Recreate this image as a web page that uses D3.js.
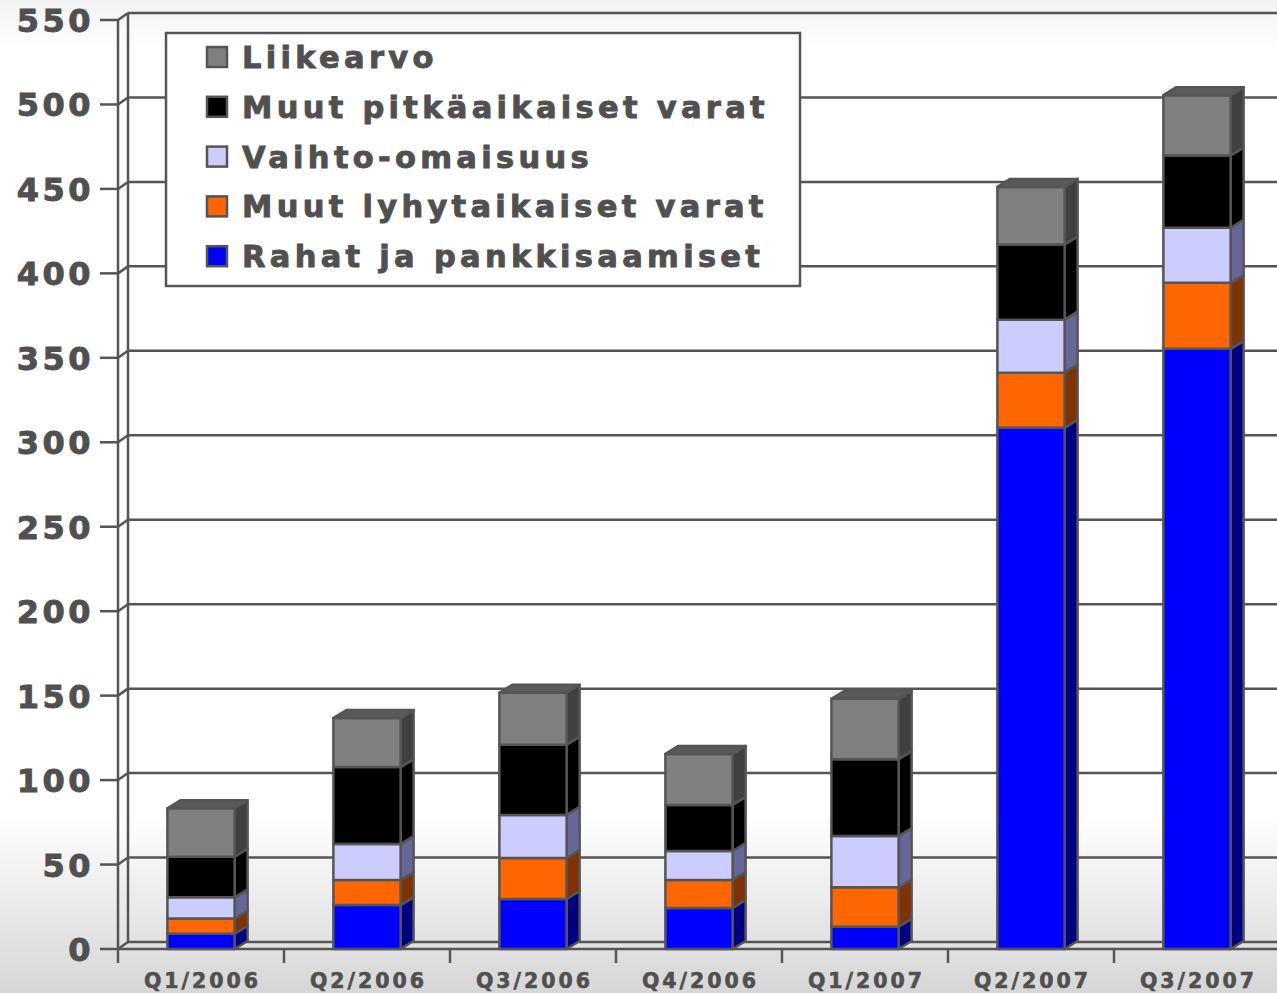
<!DOCTYPE html>
<html>
<head>
<meta charset="utf-8">
<script src="https://cdn.jsdelivr.net/npm/d3@7"></script>
<style>
  body { margin: 0; padding: 0; }
  svg { display: block; font-family: "DejaVu Sans", Verdana, sans-serif; font-weight: bold; }
</style>
</head>
<body>
<svg id="chart" width="1277" height="993"></svg>
<script>
// data (millions)
var quarters = ["Q1/2006", "Q2/2006", "Q3/2006", "Q4/2006", "Q1/2007", "Q2/2007", "Q3/2007"]
var seriesNames = ["Rahat ja pankkisaamiset", "Muut lyhytaikaiset varat", "Vaihto-omaisuus", "Muut pitkäaikaiset varat", "Liikearvo"]
var rahat = [9, 26, 29.6, 24.3, 13.2, 308.6, 355.3]
var muutLyhyt = [9, 14.8, 24.3, 16.6, 23.3, 32.6, 39.1]
var vaihto = [12.6, 21.3, 25.5, 17.1, 30.4, 31.4, 32.6]
var muutPitka = [24, 45.6, 41.5, 27.3, 45.5, 44.5, 42.8]
var liikearvo = [28.7, 29, 30.8, 30.2, 35.7, 34.1, 35.7]
var yTicks = [0, 50, 100, 150, 200, 250, 300, 350, 400, 450, 500, 550]

var fronts = ["#0000ff", "#ff6600", "#ccccff", "#000000", "#808080"]
var sides = ["#000080", "#803300", "#666699", "#000000", "#404040"]
var lineCol = "#555555"
var textCol = "#505050"

var rows = quarters.map((q, i) => ({
  q: q,
  s0: rahat[i], s1: muutLyhyt[i], s2: vaihto[i], s3: muutPitka[i], s4: liikearvo[i]
}))
var keys = ["s0", "s1", "s2", "s3", "s4"]
var stacked = d3.stack().keys(keys)(rows)

var svg = d3.select("#chart")
var W = 1277, H = 993

// background gradient
var defs = svg.append("defs")
var grad = defs.append("linearGradient").attr("id", "bg").attr("x1", 0).attr("y1", 0).attr("x2", 0).attr("y2", 1)
grad.append("stop").attr("offset", "0").attr("stop-color", "#f2f2f2")
grad.append("stop").attr("offset", "0.05").attr("stop-color", "#ffffff")
grad.append("stop").attr("offset", "0.82").attr("stop-color", "#ffffff")
grad.append("stop").attr("offset", "1").attr("stop-color", "#d6d6d6")
svg.append("rect").attr("width", W).attr("height", H).attr("fill", "url(#bg)")

var plotLeft = 118, plotRight = 1280, plotBottom = 949, plotTop = 20
var wdx = 10, wdy = -7   // wall depth
var bdx = 13, bdy = -8   // bar depth

var x = d3.scaleBand().domain(quarters).range([plotLeft, plotRight]).padding(0)
var y = d3.scaleLinear().domain([0, 550]).range([plotBottom, plotTop])
var barW = x.bandwidth() * 0.405

// back wall gridlines
var grid = svg.append("g").attr("stroke", lineCol).attr("stroke-width", 2.5).attr("fill", "none")
yTicks.forEach(t => {
  grid.append("line")
    .attr("x1", plotLeft + wdx).attr("x2", plotRight)
    .attr("y1", y(t) + wdy).attr("y2", y(t) + wdy)
  grid.append("line")
    .attr("x1", plotLeft).attr("x2", plotLeft + wdx)
    .attr("y1", y(t)).attr("y2", y(t) + wdy)
  grid.append("line")
    .attr("x1", plotLeft - 18).attr("x2", plotLeft)
    .attr("y1", y(t)).attr("y2", y(t))
})
grid.append("line").attr("x1", plotLeft).attr("x2", plotLeft).attr("y1", y(550)).attr("y2", plotBottom)
grid.append("line").attr("x1", plotLeft + wdx).attr("x2", plotLeft + wdx).attr("y1", y(550) + wdy).attr("y2", plotBottom + wdy)
grid.append("line").attr("x1", plotLeft).attr("x2", plotRight).attr("y1", plotBottom).attr("y2", plotBottom)

// x ticks at band edges
quarters.forEach(q => {
  grid.append("line").attr("x1", x(q)).attr("x2", x(q)).attr("y1", plotBottom).attr("y2", plotBottom + 14)
})

// legend
var legend = svg.append("g")
legend.append("rect").attr("x", 166).attr("y", 33).attr("width", 634).attr("height", 253)
  .attr("fill", "#ffffff").attr("stroke", lineCol).attr("stroke-width", 2.5)
var legendOrder = [4, 3, 2, 1, 0]
legendOrder.forEach((k, i) => {
  var cy = 57 + i * 49.8
  legend.append("rect").attr("x", 207).attr("y", cy - 10).attr("width", 20).attr("height", 20)
    .attr("fill", fronts[k]).attr("stroke", lineCol).attr("stroke-width", 2.5)
  legend.append("text").attr("x", 242).attr("y", cy + 11)
    .attr("font-size", 30.5).attr("letter-spacing", 4.3).attr("fill", textCol)
    .attr("stroke", textCol).attr("stroke-width", 0.9)
    .text(seriesNames[k])
})

// bars
var bars = svg.append("g").attr("stroke", lineCol).attr("stroke-width", 2.5).attr("stroke-linejoin", "round")
quarters.forEach((q, i) => {
  var x0 = x(q) + (x.bandwidth() - barW) / 2
  var x1 = x0 + barW
  stacked.forEach((layer, k) => {
    var d = layer[i]
    var yt = y(d[1]), yb = y(d[0])
    bars.append("polygon")
      .attr("points", [[x1, yb], [x1, yt], [x1 + bdx, yt + bdy], [x1 + bdx, yb + bdy]].join(" "))
      .attr("fill", sides[k])
    bars.append("rect").attr("x", x0).attr("y", yt).attr("width", barW).attr("height", yb - yt)
      .attr("fill", fronts[k])
    if (k == stacked.length - 1) {
      bars.append("polygon")
        .attr("points", [[x0, yt], [x0 + bdx, yt + bdy], [x1 + bdx, yt + bdy], [x1, yt]].join(" "))
        .attr("fill", "#5a5a5a")
    }
  })
})

// y labels
svg.append("g").selectAll("text").data(yTicks).enter().append("text")
  .attr("x", 94).attr("y", d => y(d) + 12)
  .attr("text-anchor", "end")
  .attr("font-size", 32).attr("letter-spacing", 3.5).attr("fill", textCol)
  .attr("stroke", textCol).attr("stroke-width", 0.9)
  .text(d => d)

// x labels
svg.append("g").selectAll("text").data(quarters).enter().append("text")
  .attr("x", d => x(d) + x.bandwidth() / 2 + 1.5).attr("y", 988)
  .attr("text-anchor", "middle")
  .attr("font-size", 20.5).attr("letter-spacing", 3).attr("fill", textCol)
  .attr("stroke", textCol).attr("stroke-width", 0.6)
  .text(d => d)
</script>
</body>
</html>
